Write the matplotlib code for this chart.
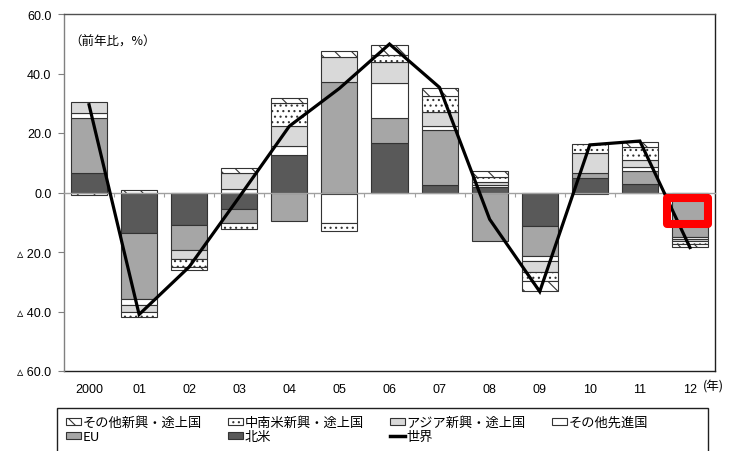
import numpy as np
import matplotlib
matplotlib.use("Agg")
import matplotlib.pyplot as plt
import matplotlib.transforms as mtransforms
from matplotlib.patches import Patch, Rectangle
from matplotlib.lines import Line2D

plt.rcParams['font.family'] = ['Liberation Sans', 'DejaVu Sans', 'Noto Sans CJK JP']
plt.rcParams['hatch.linewidth'] = 0.8

years = ['2000', '01', '02', '03', '04', '05', '06', '07', '08', '09', '10', '11', '12']
north_america = [6.7, -13.7, -10.9, -5.6, 12.5, -0.6, 16.8, 2.5, 1.9, -11.1, 4.9, 2.8, -0.8]
eu = [18.2, -22.2, -8.4, -4.7, -9.5, 37.3, 8.3, 18.4, -16.3, -10.2, 1.8, 4.3, -14.0]
other_advanced = [1.7, -2.0, 0.0, 1.3, 3.2, -9.7, 11.6, 1.5, 0.6, -1.7, 0.0, 1.5, -0.7]
asia_emerging = [3.9, -2.2, -3.1, 5.2, 6.5, 8.1, 7.2, 4.7, 1.1, -3.7, 6.5, 2.4, -0.9]
latam_emerging = [0.0, -1.6, -2.8, -2.0, 7.8, -2.6, 2.2, 5.2, 1.5, -3.0, 3.1, 4.3, -0.9]
other_emerging = [-0.8, 1.0, -0.7, 1.6, 1.7, 2.2, 3.4, 2.8, 2.0, -3.4, -0.6, 1.7, -1.0]
world = [29.5, -41.0, -25.0, -1.5, 22.3, 35.0, 49.9, 35.3, -9.0, -33.3, 16.0, 17.3, -18.5]

labels = ['北米', 'EU', 'その他先進国', 'アジア新興・途上国', '中南米新興・途上国', 'その他新興・途上国']
world_label = '世界'
yticks = [60, 40, 20, 0, -20, -40, -60]
unit_note = '（前年比，%）'
year_unit = '(年)'

styles = [
    dict(facecolor='#595959', hatch=None),
    dict(facecolor='#a6a6a6', hatch=None),
    dict(facecolor='white', hatch=None),
    dict(facecolor='#d9d9d9', hatch=None),
    dict(facecolor='white', hatch='...'),
    dict(facecolor='white', hatch='\\\\'),
]
series = [north_america, eu, other_advanced, asia_emerging, latam_emerging, other_emerging]

fig = plt.figure(figsize=(7.3, 4.52), dpi=100)
ax = fig.add_axes([64 / 730, 80 / 452, 651 / 730, 357 / 452])
ax.set_xlim(-0.5, len(years) - 0.5)
ax.set_ylim(-60, 60)

x = np.arange(len(years))
pos_bottom = np.zeros(len(years))
neg_bottom = np.zeros(len(years))
edge = '#333333'
for vals, st in zip(series, styles):
    v = np.array(vals, dtype=float)
    bottom = np.where(v >= 0, pos_bottom, neg_bottom)
    m = v != 0
    ax.bar(x[m], v[m], width=0.72, bottom=bottom[m], color=st['facecolor'],
           edgecolor=edge, linewidth=0.8, hatch=st['hatch'], zorder=2)
    pos_bottom += np.clip(v, 0, None)
    neg_bottom += np.clip(v, None, 0)

ax.plot(x, world, color='black', lw=2.3, zorder=4, solid_joinstyle='miter')

# highlight box on the last year
last = len(years) - 1
ax.add_patch(Rectangle((last - 0.46, -10.7), 0.82, 8.8, fill=False,
                       edgecolor='#ff0000', lw=5.8, joinstyle='round', zorder=5))

# y axis
ax.set_yticks(yticks)
ax.set_yticklabels([f"{v:.1f}" if v >= 0 else f"▵ {abs(v):.1f}" for v in yticks],
                   fontsize=9)
ax.tick_params(axis='y', length=4, width=0.8, color='#808080', pad=5)

# zero axis with boundary ticks
ax.spines['bottom'].set_position(('data', 0))
ax.spines['bottom'].set_color('#a0a0a0')
ax.spines['bottom'].set_linewidth(1.0)
ax.set_xticks(np.arange(0.5, len(years) - 1, 1.0))
ax.set_xticklabels([])
ax.tick_params(axis='x', length=3, width=0.8, color='#a0a0a0', direction='out')
ax.spines['left'].set_color('#808080')
ax.spines['top'].set_color('#505050')
ax.spines['right'].set_color('#202020')
for s in ax.spines.values():
    s.set_linewidth(1.0)

sec = ax.secondary_xaxis('bottom')
sec.set_xticks(x)
sec.set_xticklabels(years, fontsize=9)
sec.tick_params(length=0, pad=9)
sec.spines['bottom'].set_color('#202020')
sec.spines['bottom'].set_linewidth(1.0)

trans = mtransforms.blended_transform_factory(ax.transData, ax.transAxes)
ax.text(last + 0.25, -0.042, year_unit, transform=trans, ha='left', va='center',
        fontsize=9, family=['Noto Sans CJK JP'])
ax.text(0.008, 0.925, unit_note, transform=ax.transAxes, ha='left', va='center',
        fontsize=9, family=['Noto Sans CJK JP'])

# legend
h = {lab: Patch(facecolor=st['facecolor'], edgecolor=edge, hatch=st['hatch'], linewidth=0.8)
     for lab, st in zip(labels, styles)}
h[world_label] = Line2D([], [], color='black', lw=2.5)
order = ['その他新興・途上国', 'EU', '中南米新興・途上国', '北米', 'アジア新興・途上国', world_label, 'その他先進国']
leg = fig.legend([h[k] for k in order], order, ncol=4, loc='upper left',
                 bbox_to_anchor=(66 / 730, 1 - 417 / 452), frameon=False,
                 prop=dict(family=['Noto Sans CJK JP'], size=9.5),
                 handlelength=1.1, handleheight=0.5, handletextpad=0.15,
                 columnspacing=2.0, labelspacing=0.1, borderpad=0, borderaxespad=0)
fig.add_artist(Rectangle((57 / 730, -0.05), (708 - 57) / 730, 0.05 + (452 - 409) / 452,
                         transform=fig.transFigure, fill=False, edgecolor='#202020',
                         lw=1.0, clip_on=False))

fig.savefig('out.png', dpi=100)
